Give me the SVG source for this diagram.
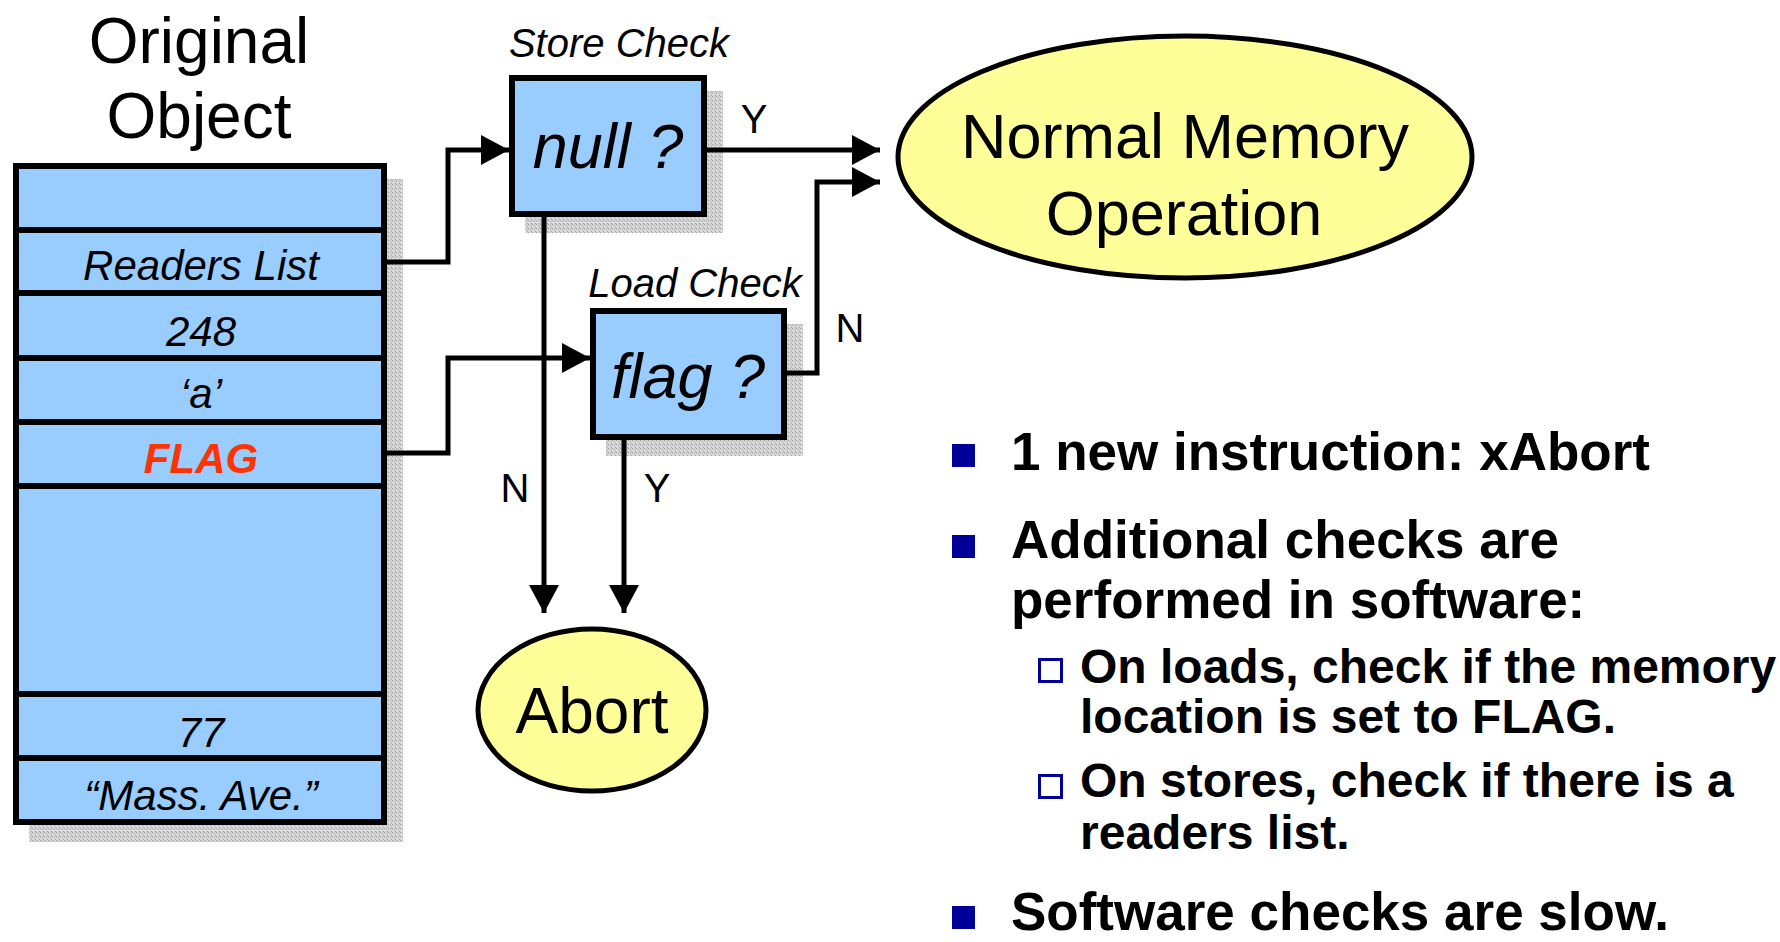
<svg xmlns="http://www.w3.org/2000/svg" width="1780" height="942" viewBox="0 0 1780 942">
<style>
  text { font-family: "Liberation Sans", Arial, sans-serif; fill: #000; }
  .box { fill: #99CCFF; stroke: #000; stroke-width: 6; }
  .sep { stroke: #000; stroke-width: 6; }
  .ell { fill: #FFFF99; stroke: #000; stroke-width: 5; }
  .shadow { fill: url(#stipple); }
  .conn { fill: none; stroke: #000; stroke-width: 5; }
  .lbl { font-size: 40px; text-anchor: middle; }
  .it { font-style: italic; }
  .cell { font-size: 42px; font-style: italic; text-anchor: middle; }
  .b1 { font-size: 53px; font-weight: bold; }
  .b2 { font-size: 48px; font-weight: bold; }
  .sq { fill: #000099; }
  .hsq { fill: none; stroke: #000099; stroke-width: 3; }
</style>
<defs>
  <pattern id="stipple" patternUnits="userSpaceOnUse" width="4" height="4">
    <rect width="4" height="4" fill="#d4d4d4"/>
    <rect x="0" y="0" width="1" height="1" fill="#a0a0a0"/>
    <rect x="2" y="1" width="1" height="1" fill="#b0b0b0"/>
    <rect x="1" y="2" width="1" height="1" fill="#eeeeee"/>
    <rect x="3" y="3" width="1" height="1" fill="#a8a8a8"/>
  </pattern>
  <marker id="arrow" markerUnits="userSpaceOnUse" markerWidth="28" markerHeight="30" refX="28" refY="15" orient="auto">
    <path d="M0,0 L28,15 L0,30 Z" fill="#000"/>
  </marker>
</defs>
<rect width="1780" height="942" fill="#fff"/>

<g id="title">
  <text x="199" y="63" font-size="64" text-anchor="middle">Original</text>
  <text x="199" y="138" font-size="64" text-anchor="middle">Object</text>
</g>

<g id="object-table">
  <rect class="shadow" x="29" y="179" width="374" height="663"/>
  <rect class="box" x="16" y="166" width="368" height="656"/>
  <line class="sep" x1="16" y1="230" x2="384" y2="230"/>
  <line class="sep" x1="16" y1="293" x2="384" y2="293"/>
  <line class="sep" x1="16" y1="358" x2="384" y2="358"/>
  <line class="sep" x1="16" y1="422" x2="384" y2="422"/>
  <line class="sep" x1="16" y1="486" x2="384" y2="486"/>
  <line class="sep" x1="16" y1="694" x2="384" y2="694"/>
  <line class="sep" x1="16" y1="758" x2="384" y2="758"/>
  <text class="cell" x="201" y="280">Readers List</text>
  <text class="cell" x="201" y="346">248</text>
  <text class="cell" x="201" y="408">‘a’</text>
  <text class="cell" x="201" y="473" font-size="44" font-weight="bold" style="fill:#FF3300">FLAG</text>
  <text class="cell" x="201" y="747">77</text>
  <text class="cell" x="201" y="810">“Mass. Ave.”</text>
</g>

<g id="store-check">
  <rect class="shadow" x="525" y="91" width="198" height="142"/>
  <rect class="box" x="512" y="78" width="192" height="136"/>
  <text class="lbl it" x="619" y="57" font-size="43">Store Check</text>
  <text class="it" x="608" y="168" font-size="63" text-anchor="middle">null ?</text>
</g>

<g id="load-check">
  <rect class="shadow" x="606" y="324" width="197" height="132"/>
  <rect class="box" x="593" y="311" width="191" height="126"/>
  <text class="lbl it" x="695" y="297" font-size="43">Load Check</text>
  <text class="it" x="688" y="398" font-size="63" text-anchor="middle">flag ?</text>
</g>

<g id="normal-memory">
  <ellipse class="ell" cx="1185" cy="157" rx="287" ry="121"/>
  <text x="1185" y="158" font-size="63" text-anchor="middle">Normal Memory</text>
  <text x="1184" y="235" font-size="63" text-anchor="middle">Operation</text>
</g>

<g id="abort">
  <ellipse class="ell" cx="592" cy="710" rx="114" ry="81"/>
  <text x="592" y="733" font-size="64" text-anchor="middle">Abort</text>
</g>

<g id="connectors">
  <path class="conn" d="M387,262 H448 V150 H509" marker-end="url(#arrow)"/>
  <path class="conn" d="M707,150 H880" marker-end="url(#arrow)"/>
  <path class="conn" d="M787,373 H817 V182 H880" marker-end="url(#arrow)"/>
  <path class="conn" d="M387,453 H448 V358 H590" marker-end="url(#arrow)"/>
  <path class="conn" d="M544,217 V613" marker-end="url(#arrow)"/>
  <path class="conn" d="M624,440 V613" marker-end="url(#arrow)"/>
  <text class="lbl" x="754" y="133">Y</text>
  <text class="lbl" x="850" y="342">N</text>
  <text class="lbl" x="515" y="502">N</text>
  <text class="lbl" x="657" y="502">Y</text>
</g>

<g id="bullets">
  <rect class="sq" x="952" y="444" width="23" height="23"/>
  <text class="b1" x="1011" y="470">1 new instruction: xAbort</text>
  <rect class="sq" x="952" y="535" width="23" height="23"/>
  <text class="b1" x="1011" y="558">Additional checks are</text>
  <text class="b1" x="1011" y="618">performed in software:</text>
  <rect class="hsq" x="1039.5" y="659.5" width="22" height="22"/>
  <text class="b2" x="1080" y="683">On loads, check if the memory</text>
  <text class="b2" x="1080" y="733">location is set to FLAG.</text>
  <rect class="hsq" x="1039.5" y="775.5" width="22" height="22"/>
  <text class="b2" x="1080" y="797">On stores, check if there is a</text>
  <text class="b2" x="1080" y="849">readers list.</text>
  <rect class="sq" x="952" y="906" width="23" height="23"/>
  <text class="b1" x="1011" y="930">Software checks are slow.</text>
</g>
</svg>
